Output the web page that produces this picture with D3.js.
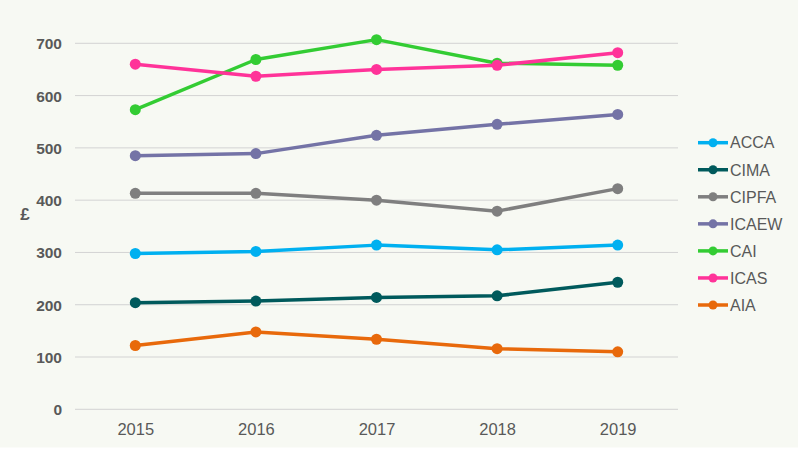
<!DOCTYPE html>
<html><head><meta charset="utf-8">
<script src="https://cdn.jsdelivr.net/npm/d3@7/dist/d3.min.js"></script>
<style>
html,body{margin:0;padding:0;background:#fff;}
svg{display:block;}
</style></head>
<body>
<script>
const years = ["2015","2016","2017","2018","2019"];
const seriesNames = ["ACCA","CIMA","CIPFA","ICAEW","CAI","ICAS","AIA"];
const ACCA  = [298, 302, 314, 305, 314];
const CIMA  = [204, 207, 214, 217, 243];
const CIPFA = [413, 413, 400, 379, 422];
const ICAEW = [485, 489, 524, 545, 564];
const CAI   = [573, 669, 707, 662, 658];
const ICAS  = [660, 637, 650, 658, 682];
const AIA   = [122, 148, 134, 116, 110];
const yTicks = [0, 100, 200, 300, 400, 500, 600, 700];
const colors = ["#00b0f0","#005a5c","#7f7f7f","#7473a6","#33cc33","#ff3399","#e8690b"];
const seriesValues = [ACCA, CIMA, CIPFA, ICAEW, CAI, ICAS, AIA];

const W = 798, H = 456;
const svg = d3.select("body").append("svg").attr("width", W).attr("height", H);
svg.append("rect").attr("x",0).attr("y",0).attr("width",W).attr("height",447.5).attr("fill","#f7f9f3");

const x = d3.scalePoint().domain(years).range([75, 678]).padding(0.5);
const y = d3.scaleLinear().domain([0, 700]).range([409.3, 43.3]);

// gridlines
svg.append("g").selectAll("line").data(yTicks).join("line")
  .attr("x1", 75).attr("x2", 678)
  .attr("y1", d => y(d)).attr("y2", d => y(d))
  .attr("stroke", "#d3d3d3").attr("stroke-width", 1);

// y axis labels
const yAxis = d3.axisLeft(y).tickValues(yTicks).tickSize(0).tickPadding(0);
const gy = svg.append("g").attr("transform","translate(62,0)").call(yAxis);
gy.select(".domain").remove();
gy.selectAll("text").attr("font-family","Liberation Sans, Arial, sans-serif")
  .attr("font-size","15.5px").attr("font-weight","bold").attr("fill","#595959").attr("dy","0.35em");

// x axis labels
const xAxis = d3.axisBottom(x).tickSize(0).tickPadding(0);
const gx = svg.append("g").attr("transform","translate(0,423)").call(xAxis);
gx.select(".domain").remove();
gx.selectAll("text").attr("font-family","Liberation Sans, Arial, sans-serif")
  .attr("font-size","16.5px").attr("fill","#595959").attr("dy","0.71em");

// £ label
svg.append("text").attr("x", 25).attr("y", 220).attr("text-anchor","middle")
  .attr("font-family","Liberation Sans, Arial, sans-serif").attr("font-size","17px")
  .attr("font-weight","bold").attr("fill","#595959").text("£");

const line = d3.line().x((d,i) => x(years[i])).y(d => y(d));

// draw order: back to front
const order = [2, 3, 0, 1, 6, 4, 5];
order.forEach(k => {
  const g = svg.append("g");
  g.append("path").attr("d", line(seriesValues[k])).attr("fill","none")
    .attr("stroke", colors[k]).attr("stroke-width", 3.5).attr("stroke-linejoin","round");
  g.selectAll("circle").data(seriesValues[k]).join("circle")
    .attr("cx", (d,i) => x(years[i])).attr("cy", d => y(d)).attr("r", 5.5)
    .attr("fill", colors[k]);
});

// legend
const leg = svg.append("g");
seriesNames.forEach((name, i) => {
  const ly = 142.7 + i * 27.05;
  leg.append("line").attr("x1", 698).attr("x2", 728).attr("y1", ly).attr("y2", ly)
    .attr("stroke", colors[i]).attr("stroke-width", 3.5);
  leg.append("circle").attr("cx", 713).attr("cy", ly).attr("r", 4.5).attr("fill", colors[i]);
  leg.append("text").attr("x", 730).attr("y", ly).attr("dy","0.36em")
    .attr("font-family","Liberation Sans, Arial, sans-serif").attr("font-size","16px")
    .attr("fill","#595959").text(name);
});
</script>
</body></html>
